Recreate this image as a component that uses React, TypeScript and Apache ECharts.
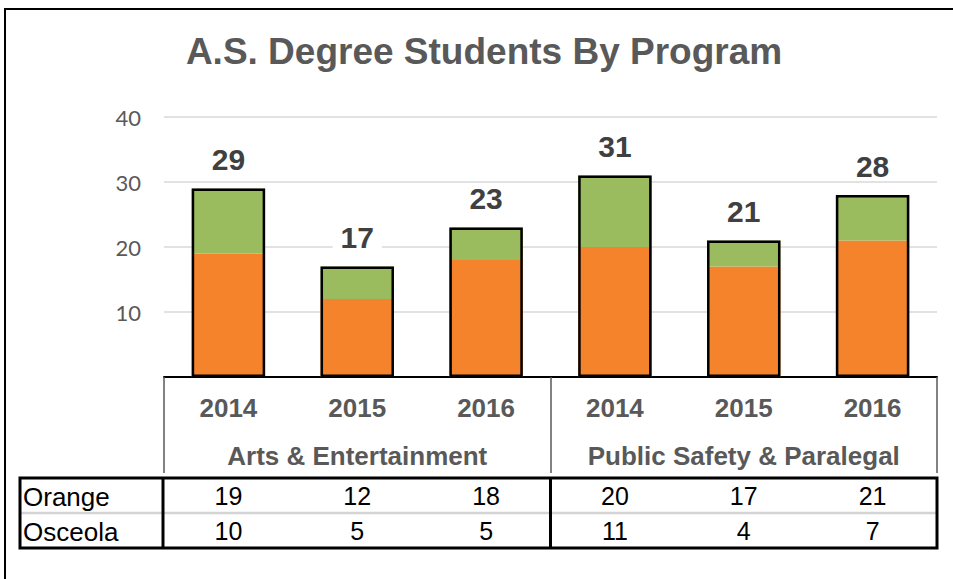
import React, { useEffect, useRef } from "react";
import * as echarts from "echarts";

const years = ["2014", "2015", "2016", "2014", "2015", "2016"];
const programs = ["Arts & Entertainment", "Public Safety & Paralegal"];
const orangeValues = [19, 12, 18, 20, 17, 21];
const osceolaValues = [10, 5, 5, 11, 4, 7];
const totals = [29, 17, 23, 31, 21, 28];
const rowLabels = ["Orange", "Osceola"];
const yMin = 0;
const yMax = 40;
const yInterval = 10;
const titleText = "A.S. Degree Students By Program";

const FONT = "'Liberation Sans', Arial, sans-serif";
const GRID_L = 164;
const GRID_R = 937;
const GRID_T = 117;
const AXIS_Y = 377;
const W = 953;
const H = 579;
const TABLE_L = 20;
const TABLE_T = 478;
const TABLE_M = 513;
const TABLE_B = 548;
const COL_DIV = 163;
const MID_DIV = (GRID_L + GRID_R) / 2;

export default function App() {
  const ref = useRef<HTMLDivElement>(null);
  useEffect(() => {
    document.body.style.margin = "0";
    if (!ref.current) return;
    const chart = echarts.init(ref.current, undefined, { renderer: "svg" });
    const option: any = {
      animation: false,
      backgroundColor: "#fff",
      grid: {
        left: GRID_L,
        right: W - GRID_R,
        top: GRID_T,
        bottom: H - AXIS_Y,
        containLabel: false,
      },
      xAxis: [
        {
          type: "category",
          data: years,
          position: "bottom",
          axisLine: { show: true, lineStyle: { color: "#000", width: 2 } },
          axisTick: { show: false },
          axisLabel: {
            interval: 0,
            fontFamily: FONT,
            fontWeight: "bold",
            fontSize: 26,
            color: "#595959",
            margin: 31,
            verticalAlign: "middle",
          },
          splitLine: { show: false },
        },
        {
          type: "category",
          data: programs,
          position: "bottom",
          axisLine: { show: false },
          axisTick: {
            show: true,
            interval: 0,
            length: 96,
            lineStyle: { color: "#595959", width: 1.5 },
          },
          axisLabel: {
            interval: 0,
            fontFamily: FONT,
            fontWeight: "bold",
            fontSize: 26,
            color: "#595959",
            margin: 79,
            verticalAlign: "middle",
          },
          splitLine: { show: false },
        },
        {
          type: "category",
          data: years,
          position: "bottom",
          axisLine: { show: false },
          axisTick: { show: false },
          axisLabel: {
            interval: 0,
            fontFamily: FONT,
            fontSize: 25,
            color: "#000",
            margin: 119,
            verticalAlign: "middle",
            formatter: (_v: string, i: number) => String(orangeValues[i]),
          },
          splitLine: { show: false },
        },
        {
          type: "category",
          data: years,
          position: "bottom",
          axisLine: { show: false },
          axisTick: { show: false },
          axisLabel: {
            interval: 0,
            fontFamily: FONT,
            fontSize: 25,
            color: "#000",
            margin: 154,
            verticalAlign: "middle",
            formatter: (_v: string, i: number) => String(osceolaValues[i]),
          },
          splitLine: { show: false },
        },
      ],
      yAxis: {
        type: "value",
        min: yMin,
        max: yMax,
        interval: yInterval,
        axisLine: { show: false },
        axisTick: { show: false },
        axisLabel: {
          fontFamily: "Lato, 'Liberation Sans', sans-serif",
          fontSize: 22,
          color: "#595959",
          margin: 23,
          formatter: (v: number) => (v === 0 ? "" : String(v)),
        },
        splitLine: { lineStyle: { color: "#d9d9d9", width: 1.5 } },
      },
      series: [
        {
          name: rowLabels[0],
          type: "bar",
          stack: "s",
          xAxisIndex: 0,
          data: orangeValues,
          barWidth: "57%",
          barGap: "-100%",
          itemStyle: { color: "#F5832B" },
        },
        {
          name: rowLabels[1],
          type: "bar",
          stack: "s",
          xAxisIndex: 0,
          data: osceolaValues,
          barWidth: "57%",
          barGap: "-100%",
          itemStyle: { color: "#9BBB5F" },
        },
        {
          name: "Total",
          type: "bar",
          xAxisIndex: 0,
          data: totals,
          barWidth: "57%",
          barGap: "-100%",
          z: 5,
          itemStyle: {
            color: "rgba(0,0,0,0)",
            borderColor: "#000",
            borderWidth: 2.5,
          },
          label: {
            show: true,
            position: "top",
            distance: 14,
            fontFamily: FONT,
            fontWeight: "bold",
            fontSize: 30,
            color: "#404040",
            backgroundColor: "#fff",
            padding: [0, 8],
          },
        },
      ],
      graphic: [
        {
          type: "rect",
          silent: true,
          shape: { x: 5, y: 9, width: W + 20, height: H + 20 },
          style: { fill: "none", stroke: "#000", lineWidth: 2 },
        },
        {
          type: "text",
          x: 484,
          y: 51,
          style: {
            text: titleText,
            fontFamily: FONT,
            fontWeight: "bold",
            fontSize: 37,
            fill: "#595959",
            align: "center",
            verticalAlign: "middle",
          },
        },
        {
          type: "line",
          shape: { x1: TABLE_L, y1: TABLE_M, x2: GRID_R, y2: TABLE_M },
          style: { stroke: "#d4d4d4", lineWidth: 2.5 },
        },
        {
          type: "rect",
          shape: { x: TABLE_L, y: TABLE_T, width: GRID_R - TABLE_L, height: TABLE_B - TABLE_T },
          style: { fill: "none", stroke: "#000", lineWidth: 3 },
        },
        {
          type: "line",
          shape: { x1: COL_DIV, y1: TABLE_T, x2: COL_DIV, y2: TABLE_B },
          style: { stroke: "#000", lineWidth: 3 },
        },
        {
          type: "line",
          shape: { x1: MID_DIV, y1: TABLE_T, x2: MID_DIV, y2: TABLE_B },
          style: { stroke: "#000", lineWidth: 3 },
        },
        {
          type: "text",
          x: TABLE_L + 3,
          y: (TABLE_T + TABLE_M) / 2 + 1,
          style: {
            text: rowLabels[0],
            fontFamily: FONT,
            fontSize: 26,
            fill: "#000",
            align: "left",
            verticalAlign: "middle",
          },
        },
        {
          type: "text",
          x: TABLE_L + 3,
          y: (TABLE_M + TABLE_B) / 2 + 1,
          style: {
            text: rowLabels[1],
            fontFamily: FONT,
            fontSize: 26,
            fill: "#000",
            align: "left",
            verticalAlign: "middle",
          },
        },
      ],
    };
    chart.setOption(option);
    return () => chart.dispose();
  }, []);
  return <div ref={ref} style={{ width: W, height: H }} />;
}
